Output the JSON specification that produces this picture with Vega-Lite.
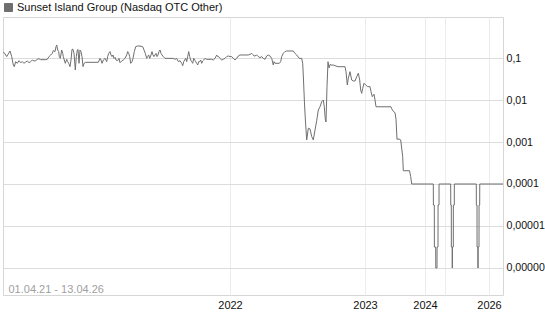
{
  "$schema": "https://vega.github.io/schema/vega-lite/v6.json",
  "width": 500,
  "height": 278,
  "autosize": {"type": "none"},
  "padding": {"left": 3, "top": 17, "right": 42, "bottom": 32},
  "background": "white",
  "config": {
    "font": "Liberation Sans",
    "view": {"stroke": "#d6d6d6", "strokeWidth": 1}
  },
  "data": {
    "values": [
      {"n": 3, "p": 0.142}, {"n": 5, "p": 0.125}, {"n": 6.7, "p": 0.108}, {"n": 8.3, "p": 0.125},
      {"n": 10, "p": 0.147}, {"n": 11.7, "p": 0.108}, {"n": 13.3, "p": 0.0681}, {"n": 14.3, "p": 0.0622},
      {"n": 15.7, "p": 0.0818}, {"n": 17.3, "p": 0.0747}, {"n": 19, "p": 0.0865}, {"n": 20.7, "p": 0.0774},
      {"n": 22.3, "p": 0.0818}, {"n": 24, "p": 0.0747}, {"n": 25.7, "p": 0.0803}, {"n": 27.3, "p": 0.0849},
      {"n": 29, "p": 0.0774}, {"n": 30.7, "p": 0.0818}, {"n": 32.3, "p": 0.0896}, {"n": 34, "p": 0.0849},
      {"n": 35.7, "p": 0.0865}, {"n": 37.3, "p": 0.093}, {"n": 39, "p": 0.0964}, {"n": 40.7, "p": 0.0912},
      {"n": 45.7, "p": 0.0912}, {"n": 47.3, "p": 0.093}, {"n": 49, "p": 0.108}, {"n": 50.7, "p": 0.118},
      {"n": 52.3, "p": 0.129}, {"n": 53.3, "p": 0.15}, {"n": 55, "p": 0.142}, {"n": 56, "p": 0.186},
      {"n": 56.7, "p": 0.204}, {"n": 57.7, "p": 0.155}, {"n": 58.7, "p": 0.142}, {"n": 59.3, "p": 0.108},
      {"n": 60.3, "p": 0.098}, {"n": 61.7, "p": 0.155}, {"n": 62.7, "p": 0.129}, {"n": 63.3, "p": 0.108},
      {"n": 64.3, "p": 0.0896}, {"n": 65.3, "p": 0.0747}, {"n": 66.7, "p": 0.093}, {"n": 67.7, "p": 0.0818},
      {"n": 68.7, "p": 0.0747}, {"n": 70, "p": 0.0622}, {"n": 71, "p": 0.0896}, {"n": 72, "p": 0.161},
      {"n": 73, "p": 0.161}, {"n": 74, "p": 0.129}, {"n": 75.3, "p": 0.0518}, {"n": 76.3, "p": 0.108},
      {"n": 77.3, "p": 0.155}, {"n": 78, "p": 0.161}, {"n": 79, "p": 0.0747}, {"n": 80, "p": 0.155},
      {"n": 81, "p": 0.142}, {"n": 82, "p": 0.108}, {"n": 83, "p": 0.0622}, {"n": 84, "p": 0.0747},
      {"n": 85.7, "p": 0.0789}, {"n": 98.3, "p": 0.0789}, {"n": 100, "p": 0.098}, {"n": 101, "p": 0.0896},
      {"n": 102, "p": 0.0747}, {"n": 103.3, "p": 0.0896}, {"n": 105, "p": 0.098}, {"n": 106.7, "p": 0.0818},
      {"n": 107.7, "p": 0.108}, {"n": 108.7, "p": 0.129}, {"n": 110, "p": 0.142}, {"n": 111, "p": 0.118},
      {"n": 112, "p": 0.108}, {"n": 113, "p": 0.118}, {"n": 114, "p": 0.098}, {"n": 115, "p": 0.104},
      {"n": 116, "p": 0.0896}, {"n": 117.7, "p": 0.0865}, {"n": 119, "p": 0.098}, {"n": 120, "p": 0.0774},
      {"n": 121.7, "p": 0.0849}, {"n": 123.3, "p": 0.0896}, {"n": 125, "p": 0.098}, {"n": 126.7, "p": 0.118},
      {"n": 127.7, "p": 0.142}, {"n": 128.7, "p": 0.129}, {"n": 129.7, "p": 0.108}, {"n": 130.7, "p": 0.0747},
      {"n": 132, "p": 0.0818}, {"n": 133, "p": 0.098}, {"n": 134.3, "p": 0.142}, {"n": 135.7, "p": 0.186},
      {"n": 137.7, "p": 0.193}, {"n": 140, "p": 0.193}, {"n": 142.7, "p": 0.186}, {"n": 144, "p": 0.155},
      {"n": 145.3, "p": 0.129}, {"n": 146.7, "p": 0.098}, {"n": 147.7, "p": 0.108}, {"n": 148.7, "p": 0.118},
      {"n": 149.7, "p": 0.098}, {"n": 151, "p": 0.118}, {"n": 152, "p": 0.142}, {"n": 153, "p": 0.118},
      {"n": 154, "p": 0.108}, {"n": 155, "p": 0.118}, {"n": 156, "p": 0.129}, {"n": 157, "p": 0.108},
      {"n": 158, "p": 0.118}, {"n": 159, "p": 0.142}, {"n": 160, "p": 0.155}, {"n": 161, "p": 0.129},
      {"n": 162, "p": 0.118}, {"n": 163.3, "p": 0.108}, {"n": 165, "p": 0.098}, {"n": 173.3, "p": 0.098},
      {"n": 175, "p": 0.093}, {"n": 176.7, "p": 0.098}, {"n": 178.3, "p": 0.0818}, {"n": 180, "p": 0.0865},
      {"n": 181.7, "p": 0.0747}, {"n": 182.7, "p": 0.0656}, {"n": 183.7, "p": 0.0818}, {"n": 184.7, "p": 0.0896},
      {"n": 185.7, "p": 0.098}, {"n": 186.7, "p": 0.0818}, {"n": 187.7, "p": 0.108}, {"n": 188.7, "p": 0.142},
      {"n": 189.7, "p": 0.108}, {"n": 190.7, "p": 0.0896}, {"n": 191.7, "p": 0.0818}, {"n": 192.7, "p": 0.0747},
      {"n": 193.7, "p": 0.098}, {"n": 194.7, "p": 0.0896}, {"n": 195.7, "p": 0.0818}, {"n": 196.7, "p": 0.0747},
      {"n": 197.7, "p": 0.0681}, {"n": 198.7, "p": 0.0818}, {"n": 199.7, "p": 0.0818}, {"n": 200.7, "p": 0.0896},
      {"n": 201.7, "p": 0.0747}, {"n": 202.7, "p": 0.0849}, {"n": 203.7, "p": 0.0896}, {"n": 205, "p": 0.098},
      {"n": 206.7, "p": 0.093}, {"n": 211.7, "p": 0.093}, {"n": 213.3, "p": 0.0896}, {"n": 215, "p": 0.098},
      {"n": 216.7, "p": 0.118}, {"n": 217.7, "p": 0.108}, {"n": 218.7, "p": 0.108}, {"n": 220, "p": 0.098},
      {"n": 221.7, "p": 0.0896}, {"n": 223.3, "p": 0.093}, {"n": 225, "p": 0.098}, {"n": 226.7, "p": 0.108},
      {"n": 228.3, "p": 0.112}, {"n": 230, "p": 0.108}, {"n": 231.7, "p": 0.108}, {"n": 233.3, "p": 0.098},
      {"n": 235, "p": 0.0896}, {"n": 236.7, "p": 0.098}, {"n": 238.3, "p": 0.112}, {"n": 240, "p": 0.118},
      {"n": 248.3, "p": 0.118}, {"n": 250, "p": 0.122}, {"n": 251.7, "p": 0.129}, {"n": 252.7, "p": 0.122},
      {"n": 254, "p": 0.112}, {"n": 255, "p": 0.112}, {"n": 256.7, "p": 0.118}, {"n": 258.3, "p": 0.108},
      {"n": 260, "p": 0.102}, {"n": 261.7, "p": 0.108}, {"n": 263.3, "p": 0.098}, {"n": 265, "p": 0.093},
      {"n": 266.7, "p": 0.112}, {"n": 268.3, "p": 0.118}, {"n": 270, "p": 0.112}, {"n": 271.7, "p": 0.098},
      {"n": 273.3, "p": 0.0681}, {"n": 274, "p": 0.0818}, {"n": 275, "p": 0.0747}, {"n": 279.3, "p": 0.0747},
      {"n": 280.7, "p": 0.0818}, {"n": 281.7, "p": 0.108}, {"n": 283.3, "p": 0.129}, {"n": 285, "p": 0.142},
      {"n": 286.7, "p": 0.147}, {"n": 293.3, "p": 0.147}, {"n": 295, "p": 0.129}, {"n": 296.7, "p": 0.118},
      {"n": 299.3, "p": 0.098}, {"n": 301.7, "p": 0.098}, {"n": 302.7, "p": 0.075}, {"n": 303.5, "p": 0.03},
      {"n": 304.5, "p": 0.008}, {"n": 305.5, "p": 0.003}, {"n": 306.7, "p": 0.00112}, {"n": 308.3, "p": 0.00212},
      {"n": 310, "p": 0.00205}, {"n": 311.7, "p": 0.00135}, {"n": 313.3, "p": 0.00112}, {"n": 315, "p": 0.00193},
      {"n": 316.7, "p": 0.0032}, {"n": 318.3, "p": 0.0058}, {"n": 320, "p": 0.0069}, {"n": 321.7, "p": 0.0091},
      {"n": 323.3, "p": 0.01}, {"n": 324.3, "p": 0.0069}, {"n": 325.3, "p": 0.0035}, {"n": 326, "p": 0.003},
      {"n": 327, "p": 0.021}, {"n": 328, "p": 0.0816}, {"n": 329, "p": 0.058}, {"n": 330, "p": 0.07},
      {"n": 331, "p": 0.068}, {"n": 333.3, "p": 0.068}, {"n": 338, "p": 0.0621}, {"n": 345, "p": 0.0621},
      {"n": 346, "p": 0.0472}, {"n": 347.3, "p": 0.0228}, {"n": 348.3, "p": 0.0329}, {"n": 350, "p": 0.0472},
      {"n": 351.7, "p": 0.0299}, {"n": 353.3, "p": 0.0283}, {"n": 355, "p": 0.0283}, {"n": 356.7, "p": 0.0359},
      {"n": 358.3, "p": 0.0433}, {"n": 359.7, "p": 0.0299}, {"n": 360.7, "p": 0.0173}, {"n": 361.7, "p": 0.0144},
      {"n": 362.7, "p": 0.019}, {"n": 364, "p": 0.025}, {"n": 365.7, "p": 0.0228}, {"n": 367.7, "p": 0.0208},
      {"n": 370, "p": 0.0208}, {"n": 371, "p": 0.0158}, {"n": 372.3, "p": 0.012}, {"n": 374, "p": 0.0137},
      {"n": 375, "p": 0.01}, {"n": 376, "p": 0.0069}, {"n": 391, "p": 0.0069}, {"n": 391.7, "p": 0.0062},
      {"n": 393.5, "p": 0.0053}, {"n": 395, "p": 0.005}, {"n": 396, "p": 0.0035}, {"n": 397, "p": 0.00116},
      {"n": 399, "p": 0.00118}, {"n": 400.7, "p": 0.00112}, {"n": 402.7, "p": 0.00045}, {"n": 403.3, "p": 0.000207},
      {"n": 409.5, "p": 0.000207}, {"n": 410.7, "p": 0.00015}, {"n": 411.7, "p": 0.0001}, {"n": 433.3, "p": 0.0001},
      {"n": 433.4, "p": 0.0000316}, {"n": 434.3, "p": 0.0000316}, {"n": 434.4, "p": 0.00000316}, {"n": 435.7, "p": 0.00000316},
      {"n": 435.8, "p": 0.000001}, {"n": 437, "p": 0.000001}, {"n": 437.05, "p": 0.00000316}, {"n": 438, "p": 0.00000316},
      {"n": 438.05, "p": 0.0000316}, {"n": 439, "p": 0.0000316}, {"n": 439.05, "p": 0.0001}, {"n": 450.7, "p": 0.0001},
      {"n": 450.75, "p": 0.0000316}, {"n": 451.3, "p": 0.0000316}, {"n": 451.35, "p": 0.00000316}, {"n": 452.2, "p": 0.00000316},
      {"n": 452.25, "p": 0.000001}, {"n": 452.35, "p": 0.000001}, {"n": 452.4, "p": 0.00000316}, {"n": 453.3, "p": 0.00000316},
      {"n": 453.35, "p": 0.0000316}, {"n": 454.3, "p": 0.0000316}, {"n": 454.35, "p": 0.0001}, {"n": 476.3, "p": 0.0001},
      {"n": 476.35, "p": 0.0000316}, {"n": 477, "p": 0.0000316}, {"n": 477.05, "p": 0.00000316}, {"n": 477.9, "p": 0.00000316},
      {"n": 477.95, "p": 0.000001}, {"n": 478.05, "p": 0.000001}, {"n": 478.1, "p": 0.00000316}, {"n": 479, "p": 0.00000316},
      {"n": 479.05, "p": 0.0000316}, {"n": 479.7, "p": 0.0000316}, {"n": 479.75, "p": 0.0001}, {"n": 503, "p": 0.0001}
    ]
  },
  "mark": {"type": "line", "strokeWidth": 1, "clip": true},
  "encoding": {
    "x": {
      "field": "n",
      "type": "quantitative",
      "scale": {"domain": [3, 503], "nice": false, "zero": false},
      "axis": {
        "values": [230, 365, 425, 445, 489],
        "labelExpr": "datum.value == 230 ? '2022' : datum.value == 365 ? '2023' : datum.value == 425 ? '2024' : datum.value == 489 ? '2026' : ''",
        "grid": true,
        "gridColor": "#ececec",
        "gridWidth": 1,
        "domain": false,
        "ticks": false,
        "labelPadding": 4,
        "labelFontSize": 11,
        "labelColor": "#111",
        "labelFlush": false,
        "labelOverlap": false,
        "title": "01.04.21 - 13.04.26",
        "titleFontSize": 11,
        "titleFontWeight": "normal",
        "titleColor": "#a0a0a0",
        "titleAnchor": "start",
        "titleAlign": "left",
        "titleBaseline": "alphabetic",
        "titleX": 5,
        "titleY": -3
      }
    },
    "y": {
      "field": "p",
      "type": "quantitative",
      "scale": {"type": "log", "domain": [2.275e-7, 0.947], "nice": false},
      "axis": {
        "orient": "right",
        "values": [0.1, 0.01, 0.001, 0.0001, 0.00001, 0.000001],
        "labelExpr": "datum.value < 0.000005 ? '0,00000' : replace(format(datum.value, '~f'), '.', ',')",
        "grid": true,
        "gridColor": "#dcdcdc",
        "domain": false,
        "ticks": false,
        "labelPadding": 3,
        "labelFontSize": 10.6,
        "labelColor": "#111",
        "labelFlush": false,
        "labelOverlap": false,
        "title": null
      }
    },
    "color": {
      "datum": "Sunset Island Group (Nasdaq OTC Other)",
      "type": "nominal",
      "scale": {"range": ["#6f6f6f"]},
      "legend": {
        "orient": "none",
        "legendX": 0,
        "legendY": -15,
        "title": null,
        "padding": 0,
        "symbolType": "square",
        "symbolSize": 64,
        "labelFontSize": 11,
        "labelColor": "#111",
        "labelOffset": 3,
        "labelLimit": 400,
        "encode": {
          "symbols": {
            "update": {
              "fill": {"value": "#6f6f6f"},
              "stroke": {"value": "#333333"},
              "strokeWidth": {"value": 1}
            }
          }
        }
      }
    }
  }
}
